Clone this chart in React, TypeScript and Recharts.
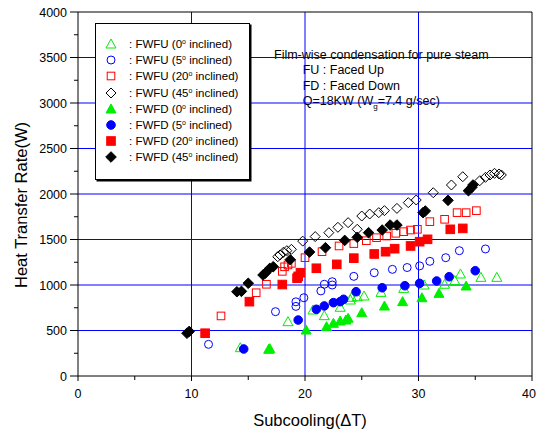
import React from 'react';
import {
  ScatterChart,
  Scatter,
  XAxis,
  YAxis,
  ReferenceLine,
  Legend,
  Customized,
} from 'recharts';

// ---- data: subcooling (K) vs. heat transfer rate (W) ----
const fwfu0X = [14.3, 18.5, 20.7, 21.7, 23.1, 24.0, 24.1, 24.6, 25.2, 26.7, 28.7, 30.5, 32.3, 33.2, 33.7, 35.5, 36.9];
const fwfu0Y = [311, 597, 725, 663, 755, 835, 865, 871, 879, 919, 963, 1000, 1008, 1048, 1121, 1084, 1084];

const fwfu5X = [11.5, 17.4, 19.2, 19.2, 19.9, 21.4, 21.7, 22.4, 22.4, 24.3, 26.1, 27.7, 29.0, 30.1, 31.0, 32.4, 33.6, 35.9];
const fwfu5Y = [348, 707, 765, 815, 860, 935, 1008, 1036, 1000, 1095, 1135, 1172, 1192, 1210, 1260, 1300, 1377, 1396];

const fwfu20X = [12.6, 15.7, 16.6, 18.0, 18.2, 18.5, 18.8, 20.0, 21.5, 23.0, 24.3, 25.4, 26.3, 27.2, 28.0, 28.7, 29.3, 29.9, 31.0, 32.3, 33.4, 34.2, 35.1];
const fwfu20Y = [660, 915, 1008, 1150, 1200, 1220, 1238, 1300, 1366, 1429, 1455, 1487, 1520, 1538, 1568, 1586, 1604, 1612, 1696, 1722, 1795, 1795, 1817];

const fwfu45X = [17.6, 17.8, 18.1, 18.4, 18.8, 19.8, 20.9, 22.1, 22.9, 23.8, 24.6, 25.0, 25.7, 26.5, 27.0, 28.1, 29.1, 29.8, 31.3, 32.9, 33.9, 35.4, 35.9, 36.3, 36.7, 37.1, 37.3];
const fwfu45Y = [1311, 1330, 1360, 1377, 1392, 1482, 1532, 1575, 1634, 1685, 1612, 1758, 1780, 1795, 1817, 1842, 1905, 1934, 2014, 2099, 2190, 2146, 2183, 2209, 2227, 2220, 2209];

const fwfd0X = [16.8, 16.9, 20.1, 21.9, 22.5, 23.1, 23.6, 23.8, 25.0, 27.0, 28.6, 30.3, 31.8, 34.2];
const fwfd0Y = [293, 300, 505, 542, 579, 604, 615, 634, 696, 769, 817, 860, 908, 989];

const fwfd5X = [14.6, 19.4, 21.0, 21.7, 22.5, 23.1, 23.4, 24.5, 26.8, 28.8, 30.1, 31.6, 32.7, 35.0];
const fwfd5Y = [297, 615, 733, 770, 806, 817, 843, 926, 970, 992, 1018, 1044, 1091, 1157];

const fwfd20X = [11.2, 15.1, 18.0, 19.3, 19.4, 19.6, 21.0, 22.8, 24.3, 26.1, 27.1, 27.9, 29.3, 30.1, 30.8, 32.8, 33.9];
const fwfd20Y = [470, 817, 1005, 1075, 1095, 1135, 1184, 1227, 1295, 1341, 1366, 1399, 1429, 1476, 1502, 1612, 1622];

const fwfd45X = [9.6, 9.8, 14.0, 14.4, 15.0, 16.3, 16.5, 16.9, 17.2, 18.7, 20.4, 21.8, 23.5, 24.6, 25.6, 26.8, 27.5, 28.1, 30.4, 30.6, 32.6, 34.4, 34.7, 34.8];
const fwfd45Y = [470, 490, 926, 930, 1019, 1110, 1130, 1183, 1201, 1278, 1362, 1410, 1490, 1524, 1575, 1604, 1659, 1659, 1795, 1813, 1930, 2036, 2073, 2099];

// ---- axis ticks ----
const xTicks = [0, 5, 10, 15, 20, 25, 30, 35, 40];
const xMajor = [0, 10, 20, 30, 40];
const yTicks = [0, 250, 500, 750, 1000, 1250, 1500, 1750, 2000, 2250, 2500, 2750, 3000, 3250, 3500, 3750, 4000];
const yMajor = [0, 500, 1000, 1500, 2000, 2500, 3000, 3500, 4000];
const xGrid = [10, 20, 30];
const yGrid = [500, 1000, 1500, 2000, 2500, 3000, 3500];

const FONT = "Arial, 'Liberation Sans', Helvetica, sans-serif";
const GREEN = '#00ee00';
const BLUE = '#0000ff';
const RED = '#ff0000';
const BLACK = '#000000';
const CHART_W = 537;

type Kind = 'triangle' | 'circle' | 'square' | 'diamond';

const zip = (xs: number[], ys: number[]) => xs.map((x, i) => ({ x, y: ys[i] }));

const series = [
  { code: 'FWFU', angle: 0, kind: 'triangle' as Kind, color: GREEN, filled: false, data: zip(fwfu0X, fwfu0Y) },
  { code: 'FWFU', angle: 5, kind: 'circle' as Kind, color: BLUE, filled: false, data: zip(fwfu5X, fwfu5Y) },
  { code: 'FWFU', angle: 20, kind: 'square' as Kind, color: RED, filled: false, data: zip(fwfu20X, fwfu20Y) },
  { code: 'FWFU', angle: 45, kind: 'diamond' as Kind, color: BLACK, filled: false, data: zip(fwfu45X, fwfu45Y) },
  { code: 'FWFD', angle: 0, kind: 'triangle' as Kind, color: GREEN, filled: true, data: zip(fwfd0X, fwfd0Y) },
  { code: 'FWFD', angle: 5, kind: 'circle' as Kind, color: BLUE, filled: true, data: zip(fwfd5X, fwfd5Y) },
  { code: 'FWFD', angle: 20, kind: 'square' as Kind, color: RED, filled: true, data: zip(fwfd20X, fwfd20Y) },
  { code: 'FWFD', angle: 45, kind: 'diamond' as Kind, color: BLACK, filled: true, data: zip(fwfd45X, fwfd45Y) },
];

function Marker({ cx, cy, kind, color, filled }: { cx: number; cy: number; kind: Kind; color: string; filled: boolean }) {
  if (cx == null || cy == null) return null;
  const fill = filled ? color : '#fff';
  const fillOpacity = filled ? 1 : 0;
  const common = { fill, fillOpacity, stroke: color, strokeWidth: 1 };
  if (kind === 'triangle') {
    const pts = `${cx},${cy - 5} ${cx + 5},${cy + 4} ${cx - 5},${cy + 4}`;
    return <polygon points={pts} {...common} />;
  }
  if (kind === 'circle') {
    return <circle cx={cx} cy={cy} r={filled ? 4.3 : 4} {...common} />;
  }
  if (kind === 'square') {
    const h = filled ? 4.3 : 3.8;
    return <rect x={cx - h} y={cy - h} width={2 * h} height={2 * h} {...common} />;
  }
  const d = filled ? 5.3 : 5;
  const pts = `${cx},${cy - d} ${cx + d},${cy} ${cx},${cy + d} ${cx - d},${cy}`;
  return <polygon points={pts} {...common} />;
}

const XTick = (props: any) => {
  const { x, y, payload } = props;
  const major = xMajor.includes(payload.value);
  // keep the last label inside the chart's right edge
  const nearEdge = x + 10 > CHART_W;
  return (
    <g>
      <line x1={x} x2={x} y1={y} y2={y + (major ? 5 : 4)} stroke="#000" strokeWidth={1} />
      {major && (
        <text
          x={nearEdge ? CHART_W - 1 : x}
          y={y + 21.5}
          textAnchor={nearEdge ? 'end' : 'middle'}
          fontSize={12.5}
          fontFamily={FONT}
          fill="#000"
        >
          {payload.value}
        </text>
      )}
    </g>
  );
};

const YTick = (props: any) => {
  const { x, y, payload } = props;
  const major = yMajor.includes(payload.value);
  return (
    <g>
      <line x1={x} x2={x - (major ? 8 : 4)} y1={y} y2={y} stroke="#000" strokeWidth={1} />
      {major && (
        <text x={x - 11} y={y} dy="0.36em" textAnchor="end" fontSize={12.5} fontFamily={FONT} fill="#000">
          {payload.value}
        </text>
      )}
    </g>
  );
};

const LegendBox = () => (
  <div
    style={{
      width: 155,
      boxSizing: 'border-box',
      border: '1px solid #000',
      boxShadow: '1.5px 1.5px 0 #000',
      background: '#fff',
      padding: '12px 0 13px 0',
      fontFamily: FONT,
      fontSize: 11.5,
      color: '#000',
    }}
  >
    {series.map((s, i) => (
      <div key={i} style={{ display: 'flex', alignItems: 'center', height: 16.2, whiteSpace: 'nowrap' }}>
        <svg width={33} height={16} style={{ flex: 'none' }}>
          <Marker cx={15} cy={8} kind={s.kind} color={s.color} filled={s.filled} />
        </svg>
        <span>
          : {s.code} ({s.angle}
          <span style={{ fontSize: 7, position: 'relative', top: -4 }}>o</span> inclined)
        </span>
      </div>
    ))}
  </div>
);

const Notes = () => (
  <g fontFamily={FONT} fontSize={12.5} fill="#000">
    <rect x={272} y={47.5} width={221} height={13.5} fill="#fff" />
    <text x={274} y={58.5}>Film-wise condensation for pure steam</text>
    <rect x={272} y={63} width={115} height={13.5} fill="#fff" />
    <text x={302.7} y={74}>FU : Faced Up</text>
    <rect x={272} y={78.5} width={132} height={13.5} fill="#fff" />
    <text x={302.7} y={89.5}>FD : Faced Down</text>
    <rect x={272} y={94} width={173} height={16} fill="#fff" />
    <text x={302.7} y={105}>
      Q=18KW (W
      <tspan dy={4} fontSize={8}>g</tspan>
      <tspan dy={-4}>=7.4 g/sec)</tspan>
    </text>
    <text transform="translate(21,205) rotate(-90)" textAnchor="middle" dominantBaseline="central" fontSize={16.5}>
      Heat Transfer Rate(W)
    </text>
    <text x={310} y={426} textAnchor="middle" fontSize={16.5}>
      Subcooling(ΔT)
    </text>
  </g>
);

export default function App() {
  return (
    <div style={{ position: 'absolute', left: 0, top: 0, background: '#fff' }}>
      <ScatterChart width={CHART_W} height={431} margin={{ top: 12, right: 5, bottom: 15, left: 8 }}>
        <XAxis
          type="number"
          dataKey="x"
          domain={[0, 40]}
          ticks={xTicks}
          interval={0}
          tickSize={0}
          tickMargin={0}
          tickLine={false}
          tick={<XTick />}
          axisLine={{ stroke: '#000', strokeWidth: 1 }}
          height={40}
          allowDataOverflow
        />
        <YAxis
          type="number"
          dataKey="y"
          domain={[0, 4000]}
          ticks={yTicks}
          interval={0}
          tickSize={0}
          tickMargin={0}
          tickLine={false}
          tick={<YTick />}
          axisLine={{ stroke: '#000', strokeWidth: 1 }}
          width={70}
          allowDataOverflow
        />
        {yGrid.map((v) => (
          <ReferenceLine key={'h' + v} y={v} stroke={BLUE} strokeWidth={1} />
        ))}
        {xGrid.map((v) => (
          <ReferenceLine key={'v' + v} x={v} stroke={BLUE} strokeWidth={1} />
        ))}
        <ReferenceLine y={4000} stroke="#000" strokeWidth={1} />
        <ReferenceLine x={40} stroke="#000" strokeWidth={1} />
        {series.map((s, i) => (
          <Scatter
            key={i}
            name={`${s.code} (${s.angle} inclined)`}
            data={s.data}
            isAnimationActive={false}
            shape={(p: any) => <Marker cx={p.cx} cy={p.cy} kind={s.kind} color={s.color} filled={s.filled} />}
          />
        ))}
        <Customized component={<Notes />} />
        <Legend
          layout="vertical"
          align="center"
          verticalAlign="middle"
          content={<LegendBox />}
          wrapperStyle={{ left: 95, top: 23, width: 'auto', height: 'auto' }}
        />
      </ScatterChart>
    </div>
  );
}
